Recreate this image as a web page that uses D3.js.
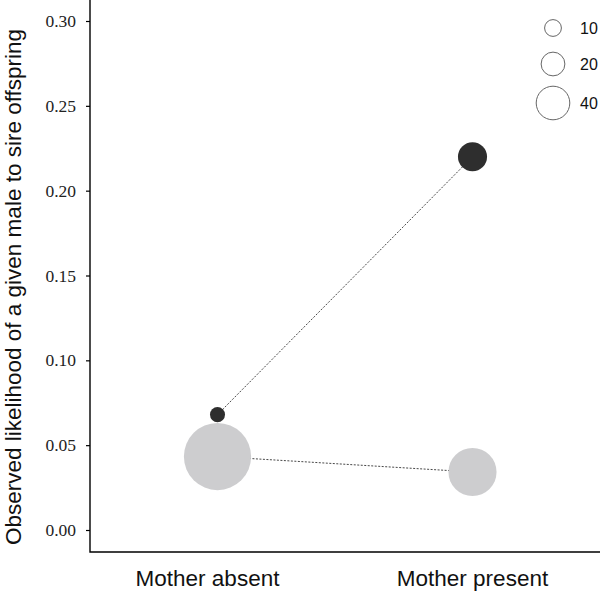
<!DOCTYPE html>
<html>
<head>
<meta charset="utf-8">
<script src="https://cdn.jsdelivr.net/npm/d3@7"></script>
<style>
  body { margin: 0; background: #fff; }
  svg { display: block; }
</style>
</head>
<body>
<svg width="600" height="592"></svg>
<script>
// data
const conditions = ["Mother absent", "Mother present"];
const darkValues = [0.068, 0.22];
const darkCounts = [8, 30];
const lightValues = [0.0433, 0.0342];
const lightCounts = [160, 82];
const yTicks = [0, 0.05, 0.1, 0.15, 0.2, 0.25, 0.3];
const legendSizes = [10, 20, 40];

const svg = d3.select("svg");
const axisX = 90;
const axisBottom = 552;

const x = d3.scalePoint().domain(conditions).range([axisX, 600]).padding(0.5);
const y = d3.scaleLinear().domain([0, 0.3]).range([530, 21]);
const r = d3.scaleSqrt().domain([0, 40]).range([0, 16.8]);

const series = [
  { values: darkValues, counts: darkCounts, fill: "#2e2e2e" },
  { values: lightValues, counts: lightCounts, fill: "#cdcdcf" },
];

// axes lines (L shape)
svg.append("path")
  .attr("d", `M${axisX},0 V${axisBottom} H600`)
  .attr("fill", "none")
  .attr("stroke", "#000")
  .attr("stroke-width", 1.4);

const yAxis = svg.append("g").attr("transform", `translate(${axisX},0)`)
  .call(d3.axisLeft(y).tickValues(yTicks).tickFormat(d3.format(".2f")).tickSize(4).tickPadding(10));
yAxis.select(".domain").remove();
yAxis.selectAll("line").attr("stroke", "#000").attr("stroke-width", 1.2);
yAxis.selectAll("text")
  .attr("font-family", "Liberation Serif, Times New Roman, serif")
  .attr("font-size", 17.5)
  .attr("fill", "#222");

// x category labels (first one sits a little left of its points in the original)
svg.append("g").selectAll("text")
  .data(conditions)
  .join("text")
  .attr("x", (d) => x(d))
  .attr("dx", (d, i) => (i === 0 ? -10 : 0))
  .attr("y", 586)
  .attr("text-anchor", "middle")
  .attr("font-family", "Liberation Sans, Arial, sans-serif")
  .attr("font-size", 22.5)
  .attr("fill", "#111")
  .text((d) => d);

// y title
svg.append("text")
  .attr("transform", "translate(21,287) rotate(-90)")
  .attr("text-anchor", "middle")
  .attr("font-family", "Liberation Sans, Arial, sans-serif")
  .attr("font-size", 22.5)
  .attr("fill", "#111")
  .text("Observed likelihood of a given male to sire offspring");

// connecting lines
const line = d3.line().x((d, i) => x(conditions[i])).y((d) => y(d));
svg.append("g").selectAll("path")
  .data(series)
  .join("path")
  .attr("d", (s) => line(s.values))
  .attr("fill", "none")
  .attr("stroke", "#333")
  .attr("stroke-width", 0.9)
  .attr("stroke-dasharray", "2,1.5");

// points
series.forEach((s) => {
  svg.append("g").selectAll("circle")
    .data(s.values)
    .join("circle")
    .attr("cx", (d, i) => x(conditions[i]))
    .attr("cy", (d) => y(d))
    .attr("r", (d, i) => r(s.counts[i]))
    .attr("fill", s.fill);
});

// size legend
const legendY = [28, 64, 103];
const legend = svg.append("g").selectAll("g")
  .data(legendSizes)
  .join("g")
  .attr("transform", (d, i) => `translate(553,${legendY[i]})`);
legend.append("circle")
  .attr("r", (d) => r(d))
  .attr("fill", "#fff")
  .attr("stroke", "#666")
  .attr("stroke-width", 1);
legend.append("text")
  .attr("x", 27)
  .attr("dy", "0.35em")
  .attr("font-family", "Liberation Sans, Arial, sans-serif")
  .attr("font-size", 16)
  .attr("fill", "#111")
  .text((d) => d);
</script>
</body>
</html>
